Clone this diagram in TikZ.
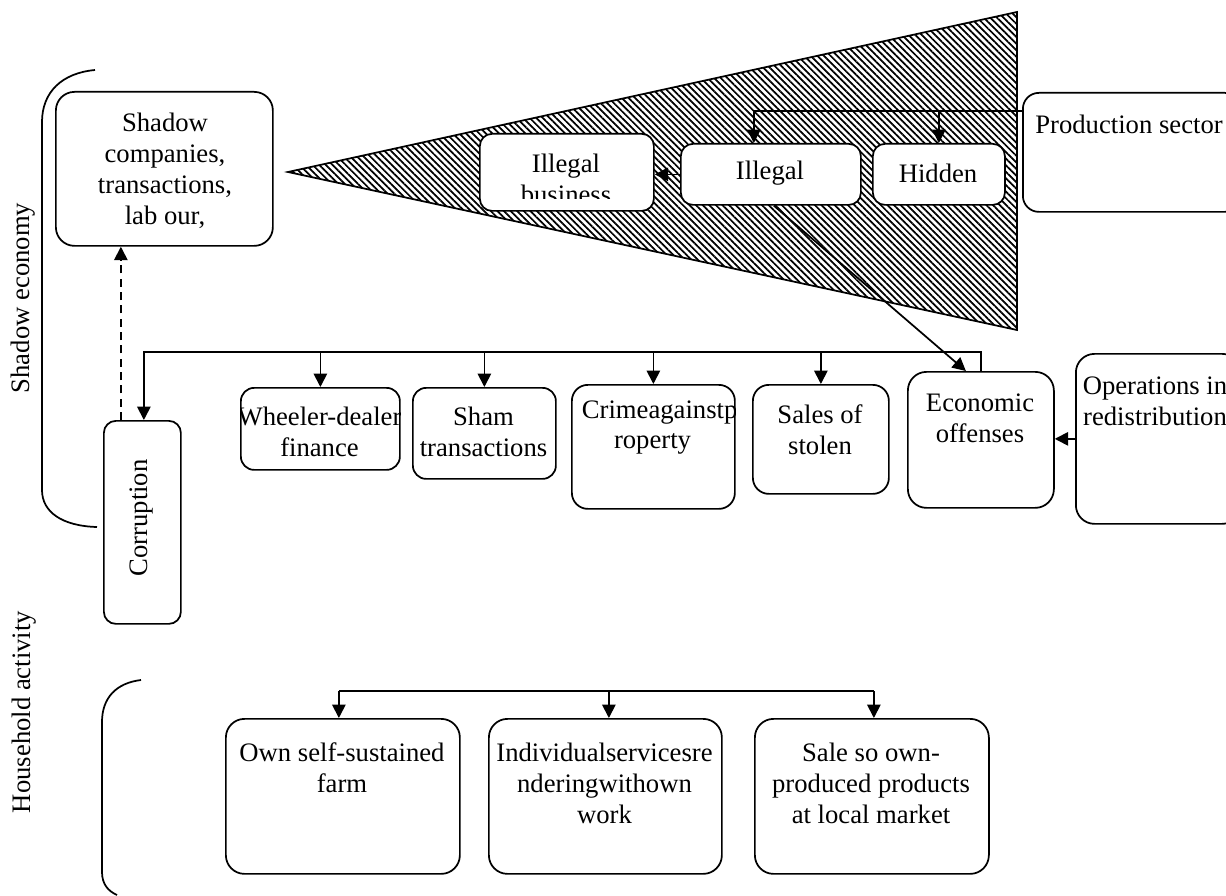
\documentclass[tikz,border=0pt]{standalone}
\usepackage{fontspec}
\setmainfont{Liberation Serif}
\usetikzlibrary{arrows.meta,calc,patterns.meta}
\newcommand\mkbox[6]{\node[box, rounded corners=#6, minimum width={(#4-#2)*0.75pt}, minimum height={(#5-#3)*0.75pt}] (#1) at (#2,#3) {};}
\begin{document}
\begin{tikzpicture}[x=0.75pt,y=-0.75pt, line width=1.3pt,
  box/.style={draw, fill=white, inner sep=0pt, anchor=north west},
  txt/.style={font=\fontsize{20pt}{23.25pt}\selectfont, align=center, inner sep=0pt},
  arr/.style={-{Triangle[length=10pt,width=10pt]}},
  hatch/.style={pattern={Lines[angle=-45,distance=3.5pt,line width=1.3pt]}}]
\useasboundingbox (0,0) rectangle (1226,895);
\clip (0,0) rectangle (1226,895);

% hatched triangle
\fill[hatch] (288,172) -- (1017,12) -- (1017,330) -- cycle;
\draw (288,172) -- (1017,12) -- (1017,330) -- cycle;

% boxes
\mkbox{shadow}{55}{91}{272}{245}{14pt}
\mkbox{prod}{1022}{92}{1240}{211}{12pt}
\mkbox{illbus}{479}{133}{653}{210}{9pt}
\mkbox{ill}{680}{143}{860}{204}{9pt}
\mkbox{hid}{872}{143}{1004}{204}{9pt}
\mkbox{wh}{240}{387}{399}{469}{10pt}
\mkbox{sham}{412}{387}{555}{478}{10pt}
\mkbox{crime}{571}{384}{734}{508}{12pt}
\mkbox{sales}{752}{384}{888}{493}{12pt}
\mkbox{econ}{907}{371}{1053}{507}{14pt}
\mkbox{ops}{1075}{353}{1240}{523}{14pt}
\mkbox{corr}{103}{420}{180}{623}{9pt}
\mkbox{hA}{225}{718}{459}{873}{14pt}
\mkbox{hB}{488}{718}{721}{873}{14pt}
\mkbox{hC}{754}{718}{988}{873}{14pt}

% texts
\node[txt] (shadowT) at (165,171) {Shadow\\companies,\\transactions,\\lab our,};
\node[txt] (prodT) at (1129,124) {Production sector};
\begin{scope}
\clip (479,133) rectangle (653,198);
\node[txt] (illbusT) at (566,178.5) {Illegal\\business};
\end{scope}
\node[txt] (illT) at (770,173) {Illegal};
\node[txt] (hidT) at (938,173) {Hidden};
\begin{scope}
\clip[rounded corners=10pt] (wh.north west) rectangle (wh.south east);
\node[txt] (whT) at (319.5,432) {Wheeler-dealer\\finance};
\end{scope}
\node[txt] (shamT) at (483.5,432) {Sham\\transactions};
\begin{scope}
\clip[rounded corners=12pt] (crime.north west) rectangle (crime.south east);
\node[txt, anchor=west] (crimeT1) at (581,413) {Crimeagainstp};
\end{scope}
\node[txt] (crimeT2) at (652.5,444) {roperty};
\node[txt] (salesT) at (820,429.5) {Sales of\\stolen};
\node[txt] (econT) at (980,418) {Economic\\offenses};
\node[txt] (opsT) at (1155,401) {Operations in\\redistribution};
\node[txt, rotate=90] (corrT) at (141.5,518) {Corruption};
\node[txt] (hAT) at (342,768) {Own self-sustained\\farm};
\node[txt] (hBT) at (604.5,783.5) {Individualservicesre\\nderingwithown\\work};
\node[txt] (hCT) at (871,783.5) {Sale so own-\\produced products\\at local market};
\node[txt, rotate=90] (lblShadow) at (23,298) {Shadow economy};
\node[txt, rotate=90] (lblHouse) at (24,712) {Household activity};

% brackets
\draw (95,70) .. controls (62,73) and (42,92) .. (42,122) -- (42,490) .. controls (42,512) and (62,526) .. (97,527);
\draw (141,680) .. controls (116,683) and (102,698) .. (102,722) -- (102,872) .. controls (102,884) and (108,891) .. (117,895);

% connectors top
\coordinate (pj) at ($(prod.north west)+(0,19)$);
\coordinate (illin) at ($(ill.north)+(-17,0)$);
\draw[arr] (pj) -| (illin);
\draw[arr] (hid.north |- pj) -- (hid.north);
\draw[arr] (ill.west) -- (illbus.east |- ill.west);
\coordinate (dfrom) at ($(ill.south)+(3,0)$);
\coordinate (dto) at ($(econ.north)+(-15,0)$);
\draw[arr] (dfrom) -- (dto);

% bus middle
\coordinate (busy) at (0,352);
\coordinate (ca) at ($(corr.north)+(1.5,0)$);
\draw[arr] (econ.north) -- (econ.north |- busy) -| (ca);
\draw[arr] (wh.north |- busy) -- (wh.north);
\draw[arr] (sham.north |- busy) -- (sham.north);
\draw[arr] (crime.north |- busy) -- (crime.north);
\draw[arr] (sales.north |- busy) -- (sales.north);
\draw[arr] (ops.west) -- (econ.east |- ops.west);
\coordinate (cd) at ($(corr.north)+(-21.5,0)$);
\draw[arr, dash pattern=on 6pt off 4pt] (cd) -- (cd |- shadow.south);

% household bus
\coordinate (hbus) at (0,691);
\coordinate (hAa) at ($(hA.north)+(-4,0)$);
\coordinate (hBa) at ($(hB.north)+(3.5,0)$);
\coordinate (hCa) at ($(hC.north)+(2,0)$);
\draw (hAa |- hbus) -- (hCa |- hbus);
\draw[arr] (hAa |- hbus) -- (hAa);
\draw[arr] (hBa |- hbus) -- (hBa);
\draw[arr] (hCa |- hbus) -- (hCa);
\end{tikzpicture}
\end{document}
